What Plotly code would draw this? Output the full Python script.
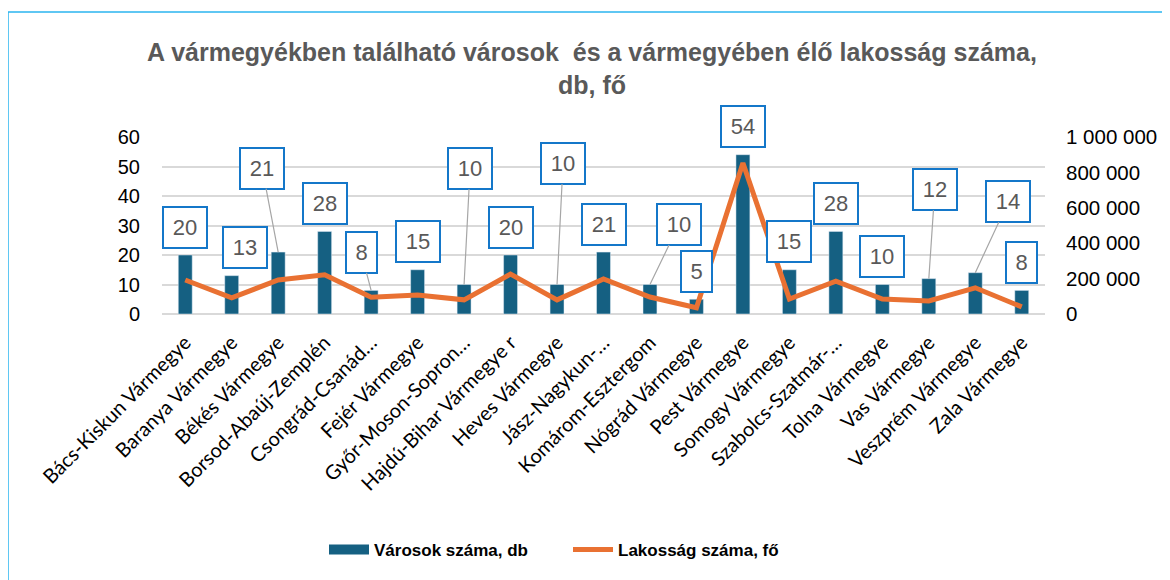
import plotly.graph_objects as go

categories = [
    "Bács-Kiskun Vármegye", "Baranya Vármegye", "Békés Vármegye", "Borsod-Abaúj-Zemplén",
    "Csongrád-Csanád…", "Fejér Vármegye", "Győr-Moson-Sopron…", "Hajdú-Bihar Vármegye r",
    "Heves Vármegye", "Jász-Nagykun-…", "Komárom-Esztergom", "Nógrád Vármegye",
    "Pest Vármegye", "Somogy Vármegye", "Szabolcs-Szatmár-…", "Tolna Vármegye",
    "Vas Vármegye", "Veszprém Vármegye", "Zala Vármegye",
]
varosok = [20, 13, 21, 28, 8, 15, 10, 20, 10, 21, 10, 5, 54, 15, 28, 10, 12, 14, 8]
lakossag = [192000, 92000, 192000, 222000, 95000, 107000, 80000, 226000, 80000, 198000,
            96000, 35000, 853000, 85000, 186000, 85000, 74000, 148000, 40000]

y1_ticks = [0, 10, 20, 30, 40, 50, 60]
y2_ticks = [0, 200000, 400000, 600000, 800000, 1000000]

# label box offsets (px) relative to the bar top, and whether a leader line is shown
label_dx = [0, 13, -16, 0, -10, 0, 6, 0, 6, 0, 29, 0, 0, 0, 0, 0, 6, 33, 0]
label_dy = [-28, -28, -84, -28, -38, -28, -116, -28, -121, -28, -60, -28, -28, -28, -28, -28, -89, -71, -28]
leader = [False, False, True, False, True, False, True, False, True, False, True, False,
          False, False, False, False, True, True, False]

BAR = "#156082"
LINE = "#E97132"
TXT = "#595959"
W, H = 1162, 572          # page body adds an 8px margin
LEFT, RIGHT, TOP, BOTTOM = 154, 125, 129, 266
pw, ph = W - LEFT - RIGHT, H - TOP - BOTTOM

fig = go.Figure()
fig.add_trace(go.Bar(x=categories, y=varosok, marker_color=BAR, name="Városok száma, db",
                     showlegend=False, yaxis="y"))
fig.add_trace(go.Scatter(x=[None], y=[None], mode="lines", line=dict(color=BAR, width=14),
                         name="Városok száma, db"))
fig.add_trace(go.Scatter(x=categories, y=lakossag, mode="lines", name="Lakosság száma, fő",
                         line=dict(color=LINE, width=5, shape="linear"), yaxis="y2"))

for i, (c, v) in enumerate(zip(categories, varosok)):
    txt = str(v)
    fig.add_annotation(
        x=c, y=v, xref="x", yref="y", text=txt,
        showarrow=True, arrowhead=0, arrowwidth=1.2,
        arrowcolor="#A6A6A6" if leader[i] else "rgba(0,0,0,0)",
        ax=label_dx[i], ay=label_dy[i],
        font=dict(family="Liberation Sans, Arial, sans-serif", size=22, color=TXT),
        bgcolor="white", bordercolor="#1477C9", borderwidth=2, borderpad=2,
        width=38 if len(txt) > 1 else 25, height=35, align="center", valign="middle",
    )

# outer chart border
fig.add_shape(type="rect", xref="paper", yref="paper",
              x0=(0 - LEFT) / pw, x1=(1157 - LEFT) / pw,
              y0=(TOP + ph - 600) / ph, y1=(TOP + ph - 4) / ph,
              line=dict(color="#2BB5F0", width=1.5), fillcolor="rgba(0,0,0,0)", layer="below")

fig.update_layout(
    width=W, height=H,
    margin=dict(l=LEFT, r=RIGHT, t=TOP, b=BOTTOM),
    paper_bgcolor="white", plot_bgcolor="white",
    separators=", ",
    bargap=0.7,
    title=dict(
        text="A vármegyékben található városok  és a vármegyében élő lakosság száma,<br>db, fő",
        x=584 / W, xanchor="center", y=1 - 53 / H, yanchor="middle",
        font=dict(family="Liberation Sans, Arial, sans-serif",
                  size=25, color=TXT, weight="bold"),
    ),
    xaxis=dict(
        tickangle=-45, showgrid=False, showline=False, ticks="", ticklabelstandoff=12,
        tickfont=dict(family="Lato, Carlito, sans-serif", size=20, color="#000000"),
    ),
    yaxis=dict(
        range=[0, 60], tickvals=y1_ticks, showgrid=True, gridcolor="#D9D9D9", gridwidth=1.5,
        zeroline=True, zerolinecolor="#D9D9D9", zerolinewidth=1.5, showline=False, ticks="",
        ticklabelstandoff=21,
        tickfont=dict(family="Liberation Sans, Arial, sans-serif", size=20, color="#000000"),
    ),
    yaxis2=dict(
        range=[0, 1000000], tickvals=y2_ticks, tickformat=",d", overlaying="y", side="right",
        showgrid=False, zeroline=False, showline=False, ticks="", ticklabelstandoff=20,
        tickfont=dict(family="Liberation Sans, Arial, sans-serif", size=20.5, color="#000000"),
    ),
    legend=dict(
        orientation="h", x=(316 - LEFT) / pw, xanchor="left", y=(TOP + ph - 542) / ph,
        yanchor="middle",
        font=dict(family="Liberation Sans, Arial, sans-serif",
                  size=17, color="#000000", weight="bold"),
        itemwidth=40, entrywidth=189, traceorder="normal",
    ),
    showlegend=True,
)

fig.write_html("out.html")
